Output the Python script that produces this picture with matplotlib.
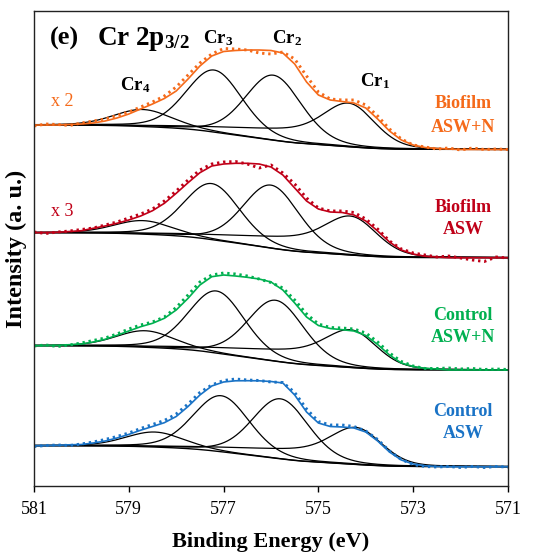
import numpy as np
import matplotlib
matplotlib.use('Agg')
import matplotlib.pyplot as plt

plt.rcParams['font.family'] = 'Liberation Serif'
plt.rcParams['mathtext.fontset'] = 'custom'
plt.rcParams['mathtext.rm'] = 'Liberation Serif:bold'
plt.rcParams['mathtext.bf'] = 'Liberation Serif:bold'
plt.rcParams['mathtext.it'] = 'Liberation Serif:bold'

# binding energy grid of the measured spectra (eV)
energy = np.linspace(581, 571, 41)

# --- Biofilm ASW+N (x2) ---
fit_bn = [361, 361, 361, 361.5, 362, 363, 365, 368, 372, 377, 382, 387.5, 395, 407, 420, 430, 434.5,
          435.5, 436, 436, 435.5, 433, 422, 404, 391, 386, 384.5, 383, 378, 367, 355, 346, 341,
          338.5, 337.5, 337, 336.5, 336.5, 336.5, 336.5, 336.5]
data_bn = [360, 362, 361.5, 360.5, 363, 365, 367, 370.5, 374, 379, 384, 390, 399, 411, 423, 432, 437.5,
           437, 436, 433, 432, 434, 427, 410, 394, 387, 386, 386, 381, 370, 357, 347, 341,
           339, 337, 338, 336, 338, 336.5, 337, 336.5]
peaks_bn = [574.3, 575.95, 577.2, 578.7]
heights_bn = [36, 65, 62, 17]

# --- Biofilm ASW (x3) ---
fit_ba = [253.3, 253.5, 253.7, 254.5, 255.3, 257.7, 260, 262.7, 266, 270, 275.3, 282.7, 292.7, 303.3,
          313.3, 320, 322, 322.7, 322.7, 322, 319, 311, 298, 285, 277, 274, 273.5, 271, 265, 255,
          244, 236, 232, 229.7, 229, 228.3, 228.3, 228.3, 228.3, 228.3, 228.3]
data_ba = [254, 252.5, 254, 255, 256.5, 258, 261, 264, 268, 272, 277, 285, 295, 306, 316, 322, 324,
           324.5, 322, 318, 321, 313, 302, 288, 278, 275, 275, 273.5, 267, 257, 245, 237, 233,
           231, 229, 230, 228, 226, 224.5, 229, 228]
peaks_ba = [574.25, 576.0, 577.25, 578.7]
heights_ba = [31, 63, 56, 13.5]

# --- Control ASW+N ---
fit_cn = [140.3, 140.5, 140.7, 141.3, 142, 144, 146.7, 150.7, 155, 159.3, 162.7, 167.7, 176, 187.7,
          201, 209.3, 211, 210, 208.7, 207, 204, 196, 183, 169, 160.5, 157.5, 156.3, 155, 150.5,
          141.5, 131, 123, 119.5, 117.7, 117, 116, 116, 116, 116, 116, 116]
data_cn = [140, 141, 139.5, 141, 143, 145.5, 148, 152, 157, 161, 164, 169, 178.5, 191, 204, 211, 213,
           212, 210, 207, 203.5, 198, 186, 172, 162, 158.5, 158, 157, 153, 144, 133, 124.5, 120,
           117.5, 117.5, 118, 117, 117.5, 116.5, 117, 116.5]
peaks_cn = [574.25, 575.9, 577.15, 578.65]
heights_cn = [30, 61, 62, 16.5]

# --- Control ASW ---
fit_ca = [40.3, 40.5, 40.7, 41.2, 41.5, 43, 45, 48, 51.6, 55.8, 59.5, 63.3, 69.5, 79.5, 91, 100, 104,
          105.2, 105.3, 105.2, 104.5, 103, 91, 74, 63, 59.5, 59, 58, 54, 45, 34, 26, 22,
          20.2, 19.5, 19.3, 19.3, 19.3, 19.3, 19.3, 19.3]
data_ca = [39.5, 40.5, 41, 40.5, 42, 44, 46.5, 49.5, 53, 57.5, 61.5, 65.5, 72, 82, 93.5, 101, 105.5,
           107, 106, 105.5, 104, 103.5, 93.5, 77, 64.5, 61, 61, 59.5, 55, 46.5, 35, 26.5, 21.5,
           19.5, 19, 19.5, 18.5, 19.5, 18.5, 19.5, 19]
peaks_ca = [574.15, 575.8, 577.05, 578.45]
heights_ca = [30.5, 60, 56, 15]

# half widths of Cr1..Cr4 components (eV), GL mixing ratio
hwhm = [0.62, 0.7, 0.7, 0.72]
lor_frac = 0.2

colors = ['#F56A1A', '#C00018', '#00B050', '#1A73C6']


def gl(x, c, h, w):
    u = (x - c) / w
    return h * ((1 - lor_frac) * np.exp(-np.log(2) * u**2) + lor_frac / (1 + u**2))


spectra = [
    (fit_bn, data_bn, peaks_bn, heights_bn, colors[0]),
    (fit_ba, data_ba, peaks_ba, heights_ba, colors[1]),
    (fit_cn, data_cn, peaks_cn, heights_cn, colors[2]),
    (fit_ca, data_ca, peaks_ca, heights_ca, colors[3]),
]

fig = plt.figure(figsize=(5.48, 5.56), dpi=100)
ax = fig.add_axes([34 / 548, 1 - 486 / 556, 474 / 548, 475 / 556])

e_fine = np.linspace(571, 581, 2001)
for fit, data, pk, ht, col in spectra:
    left, right = fit[0], fit[-1]
    comps = [gl(e_fine, c, h, w) for c, h, w in zip(pk, ht, hwhm)]
    total = np.sum(comps, axis=0)
    cum = np.cumsum(total)
    cum = cum / cum[-1]
    bg = right + (left - right) * cum  # Shirley type background
    cum1 = np.cumsum(comps[0])
    cum1 = cum1 / cum1[-1]
    bg1 = right + (left - right) * (0.75 * cum1 + 0.25 * cum)
    ax.plot(e_fine, bg, color='black', lw=1.0)
    ax.plot(e_fine, comps[0] + bg1, color='black', lw=0.9)
    for comp in comps[1:]:
        ax.plot(e_fine, comp + bg, color='black', lw=0.9)
    ax.plot(energy, fit, color=col, lw=1.2)
    ax.plot(energy, data, color=col, lw=2.1, linestyle=(0, (0.8, 1.3)))

ax.set_xlim(581, 571)
ax.set_ylim(0, 475)
ax.set_xticks([581, 579, 577, 575, 573, 571])
ax.set_xticklabels(['581', '579', '577', '575', '573', '571'], fontsize=13)
ax.set_yticks([])
ax.tick_params(axis='x', direction='out', length=4, width=1, pad=7)
for s in ax.spines.values():
    s.set_linewidth(1.0)
    s.set_color('#222222')

ax.set_xlabel('Binding Energy (eV)', fontsize=16, fontweight='bold', labelpad=10)
ax.set_ylabel('Intensity (a. u.)', fontsize=17.5, fontweight='bold', labelpad=5)

# panel title and component labels
ax.text(580.35, 441, '(e)', fontsize=19, fontweight='bold', ha='center', va='baseline')
ax.text(579.67, 441, r'Cr 2p$_{3/2}$', fontsize=19.5, fontweight='bold', ha='left', va='baseline')
ax.text(577.12, 443, r'Cr$_{3}$', fontsize=13.5, fontweight='bold', ha='center', va='baseline')
ax.text(575.66, 443, r'Cr$_{2}$', fontsize=13.5, fontweight='bold', ha='center', va='baseline')
ax.text(578.87, 396, r'Cr$_{4}$', fontsize=13.5, fontweight='bold', ha='center', va='baseline')
ax.text(573.8, 400, r'Cr$_{1}$', fontsize=13.5, fontweight='bold', ha='center', va='baseline')

ax.text(580.41, 385, 'x 2', fontsize=13, color=colors[0], ha='center', va='center')
ax.text(580.41, 275, 'x 3', fontsize=13, color=colors[1], ha='center', va='center')

names = [('Biofilm', 'ASW+N', 382, 359), ('Biofilm', 'ASW', 279, 257),
         ('Control', 'ASW+N', 171, 149), ('Control', 'ASW', 74, 52)]
for (l1, l2, y1, y2), col in zip(names, colors):
    ax.text(571.95, y1, l1, fontsize=13, fontweight='bold', color=col, ha='center', va='center')
    ax.text(571.95, y2, l2, fontsize=13, fontweight='bold', color=col, ha='center', va='center')

fig.savefig('out.png', dpi=100)
